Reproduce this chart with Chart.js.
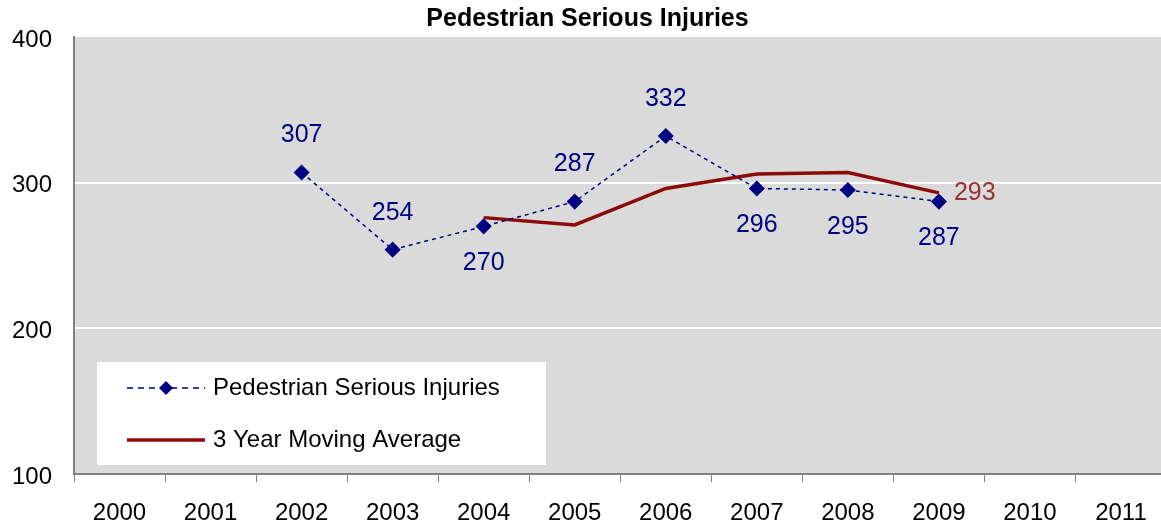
<!DOCTYPE html>
<html>
<head>
<meta charset="utf-8">
<script src="https://cdn.jsdelivr.net/npm/chart.js@4"></script>
<style>
  html, body { margin: 0; padding: 0; background: #fff; overflow: hidden; }
  #wrap { width: 1175px; height: 529px; }
</style>
</head>
<body>
<div id="wrap"><canvas id="c" width="1175" height="529"></canvas></div>
<script>
const titleText = "Pedestrian Serious Injuries";
const years = ["2000","2001","2002","2003","2004","2005","2006","2007","2008","2009","2010","2011"];
const injuries = [null, null, 307, 254, 270, 287, 332, 296, 295, 287, null, null];
const movingAvg = [null, null, null, null, 276, 271, 296, 306, 307, 293, null, null];
const injuriesLabel = "Pedestrian Serious Injuries";
const avgLabel = "3 Year Moving Average";
const yTicks = [100, 200, 300, 400];
// label placement for the injuries series (above / below the marker)
const injuriesLabelSide = [0, 0, -1, -1, 1, -1, -1, 1, 1, 1, 0, 0];

const NAVY = "#000080";
const DARKRED = "#8B0A0A";
const FONT = "'Liberation Sans', Arial, sans-serif";

const valueLabels = {
  id: "valueLabels",
  afterDatasetsDraw(chart) {
    const ctx = chart.ctx;
    ctx.save();
    ctx.font = "25px " + FONT;
    ctx.textAlign = "center";
    ctx.textBaseline = "middle";
    const m0 = chart.getDatasetMeta(0);
    m0.data.forEach((pt, i) => {
      const v = injuries[i];
      if (v == null) return;
      ctx.fillStyle = NAVY;
      ctx.fillText(String(v), pt.x, pt.y + injuriesLabelSide[i] * 37);
    });
    const m1 = chart.getDatasetMeta(1);
    let last = -1;
    movingAvg.forEach((v, i) => { if (v != null) last = i; });
    if (last >= 0) {
      const pt = m1.data[last];
      ctx.fillStyle = "#993333";
      ctx.textAlign = "left";
      ctx.fillText(String(movingAvg[last]), pt.x + 15, pt.y);
    }
    ctx.restore();
  }
};

const boxLegend = {
  id: "boxLegend",
  afterDraw(chart) {
    const ctx = chart.ctx;
    const a = chart.chartArea;
    const x0 = a.left + 23, y0 = a.top + 325, w = 449, h = 103;
    ctx.save();
    ctx.fillStyle = "#ffffff";
    ctx.fillRect(x0, y0, w, h);
    const rows = [
      { ds: chart.data.datasets[0], y: y0 + 26 },
      { ds: chart.data.datasets[1], y: y0 + 78 }
    ];
    rows.forEach((r, idx) => {
      const lx1 = x0 + 30, lx2 = x0 + 108;
      ctx.strokeStyle = r.ds.borderColor;
      ctx.lineWidth = r.ds.borderWidth;
      ctx.setLineDash(r.ds.borderDash ? [6, 5] : []);
      ctx.beginPath();
      ctx.moveTo(lx1, r.y);
      ctx.lineTo(lx2, r.y);
      ctx.stroke();
      ctx.setLineDash([]);
      if (idx === 0) {
        const cx = (lx1 + lx2) / 2, cy = r.y, s = 7;
        ctx.fillStyle = NAVY;
        ctx.beginPath();
        ctx.moveTo(cx, cy - s); ctx.lineTo(cx + s, cy); ctx.lineTo(cx, cy + s); ctx.lineTo(cx - s, cy);
        ctx.closePath(); ctx.fill();
      }
      ctx.fillStyle = "#000";
      ctx.font = "24px " + FONT;
      ctx.textAlign = "left";
      ctx.textBaseline = "middle";
      ctx.fillText(r.ds.label, lx2 + 8, r.y);
    });
    ctx.restore();
  }
};

new Chart(document.getElementById("c"), {
  type: "line",
  data: {
    labels: years,
    datasets: [
      {
        label: injuriesLabel,
        data: injuries,
        borderColor: NAVY,
        backgroundColor: NAVY,
        borderWidth: 1.5,
        borderDash: [4, 4],
        pointStyle: "rectRot",
        pointRadius: 7,
        pointBackgroundColor: NAVY,
        pointBorderColor: NAVY,
        tension: 0,
        order: 1
      },
      {
        label: avgLabel,
        data: movingAvg,
        borderColor: DARKRED,
        backgroundColor: DARKRED,
        borderWidth: 3.5,
        pointRadius: 0,
        tension: 0,
        order: 2
      }
    ]
  },
  options: {
    responsive: false,
    animation: false,
    layout: { padding: { left: 0, right: 0, top: 0, bottom: 0 } },
    plugins: {
      legend: { display: false },
      tooltip: { enabled: false },
      title: {
        display: true,
        text: titleText,
        color: "#000",
        font: { family: FONT, size: 25, weight: "bold", lineHeight: 1.16 },
        padding: { top: 5, bottom: 3 }
      }
    },
    scales: {
      x: {
        offset: true,
        grid: {
          offset: true,
          drawOnChartArea: false,
          drawTicks: true,
          tickLength: 8,
          color: "#808080",
          lineWidth: 1
        },
        border: { display: true, color: "#808080", width: 2 },
        ticks: {
          color: "#000",
          font: { family: FONT, size: 24 },
          padding: 17,
          maxRotation: 0,
          autoSkip: false
        },
        afterFit(scale) { scale.height = 55; }
      },
      y: {
        min: 100,
        max: 400,
        afterBuildTicks(scale) { scale.ticks = yTicks.map(v => ({ value: v })); },
        grid: {
          drawTicks: false,
          color: (c) => (c.tick && (c.tick.value === 100 || c.tick.value === 400)) ? "rgba(0,0,0,0)" : "#ffffff",
          lineWidth: 2
        },
        border: { display: true, color: "#808080", width: 2 },
        ticks: {
          color: "#000",
          font: { family: FONT, size: 24 },
          padding: 22,
          labelOffset: 3
        },
        afterFit(scale) { scale.width = 74; }
      }
    }
  },
  plugins: [
    {
      id: "bg",
      beforeDraw(chart) {
        const a = chart.chartArea;
        const ctx = chart.ctx;
        ctx.save();
        ctx.fillStyle = "#ffffff";
        ctx.fillRect(0, 0, chart.width, chart.height);
        ctx.fillStyle = "#dadada";
        ctx.fillRect(a.left, a.top, a.right - a.left, a.bottom - a.top);
        ctx.restore();
      }
    },
    valueLabels,
    boxLegend
  ]
});
</script>
</body>
</html>
